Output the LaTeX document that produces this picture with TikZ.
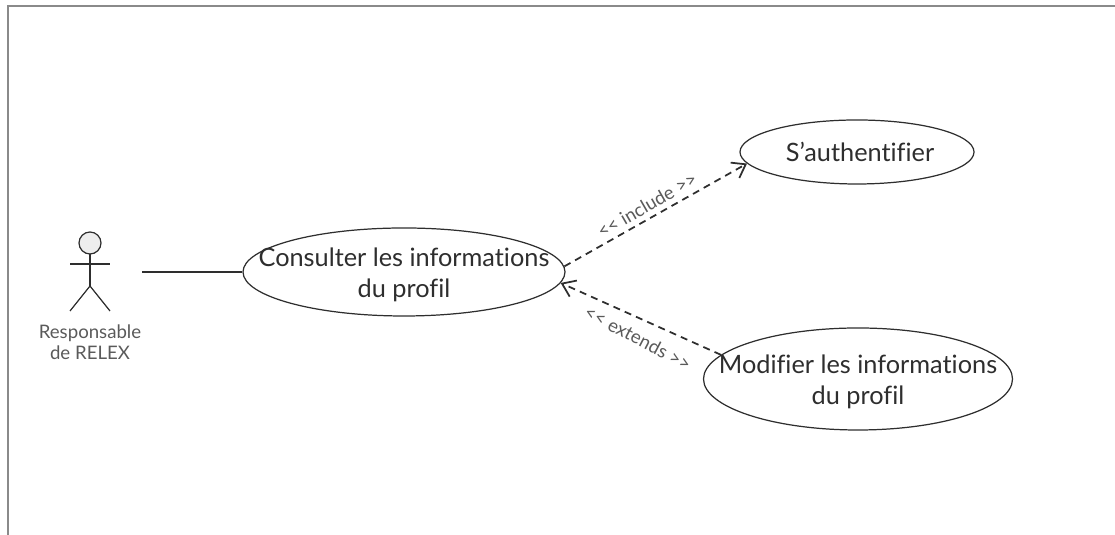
\documentclass[tikz,border=0pt]{standalone}
\usepackage{fontspec}
\setmainfont[Ligatures={NoCommon}]{Lato}
\usetikzlibrary{shapes.geometric,arrows.meta}
\definecolor{cadre}{HTML}{8A8A8A}
\definecolor{encre}{HTML}{2E2E2E}
\definecolor{gris}{HTML}{5A5A5A}
\tikzset{
  usecase/.style={draw=encre,ellipse,line width=0.35pt,inner sep=0pt},
  usetext/.style={text=encre,font=\fontsize{7.2}{9}\selectfont,align=center},
  relation/.style={dash pattern=on 2pt off 1.5pt,line width=0.5pt,draw=encre,-{Straight Barb[length=3.5pt,width=5pt]}},
  stereotype/.style={text=gris,font=\fontsize{5.3}{6}\selectfont},
  actorline/.style={line width=0.35pt,draw=encre}
}
\begin{document}
\begin{tikzpicture}
            \useasboundingbox (0,0) rectangle (11.15,5.35);
            % Cadre
            \draw[cadre,line width=0.7pt] (0.08,0) -- (0.08,5.29) -- (11.15,5.29);

            % Acteur
            \coordinate (head) at (0.90,2.92);
            \coordinate (neck) at (0.90,2.81);
            \coordinate (hip) at (0.90,2.49);
            \coordinate (armL) at (0.70,2.71);
            \coordinate (armR) at (1.10,2.71);
            \coordinate (footL) at (0.70,2.24);
            \coordinate (footR) at (1.10,2.24);
            \coordinate (actorEnd) at (1.42,2.63);
            \filldraw[actorline,fill=black!7] (head) circle (0.11);
            \draw[actorline] (neck) -- (hip);
            \draw[actorline] (armL) -- (armR);
            \draw[actorline] (footL) -- (hip) -- (footR);
            \node[stereotype,align=center] (actorLabel) at (0.90,1.93) {Responsable\\de RELEX};

            % Cas d'utilisation
            \node[usecase,minimum width=3.22cm,minimum height=0.88cm] (consult) at (4.04,2.63) {};
            \node[usetext] (consultText) at (4.04,2.60) {Consulter les informations\\du profil};

            \node[usecase,minimum width=2.34cm,minimum height=0.64cm] (auth) at (8.57,3.83) {};
            \node[usetext] (authText) at (8.60,3.83) {S'authentifier};

            \node[usecase,minimum width=3.09cm,minimum height=1.02cm] (modif) at (8.58,1.56) {};
            \node[usetext] (modifText) at (8.58,1.53) {Modifier les informations\\du profil};

            % Liens
            \draw[line width=0.45pt,draw=encre] (actorEnd) -- (consult.west);
            \draw[relation] (consult.2.5) -- (auth.186.8);
            \draw[relation] (modif.170.3) -- (consult.-4);

            % Stereotypes
            \node[stereotype,rotate=30] (includeLabel) at (6.47,3.30) {<{}< include >{}>};
            \node[stereotype,rotate=-27.6] (extendsLabel) at (6.38,1.97) {<{}< extends >{}>};
        \end{tikzpicture}
\end{document}
